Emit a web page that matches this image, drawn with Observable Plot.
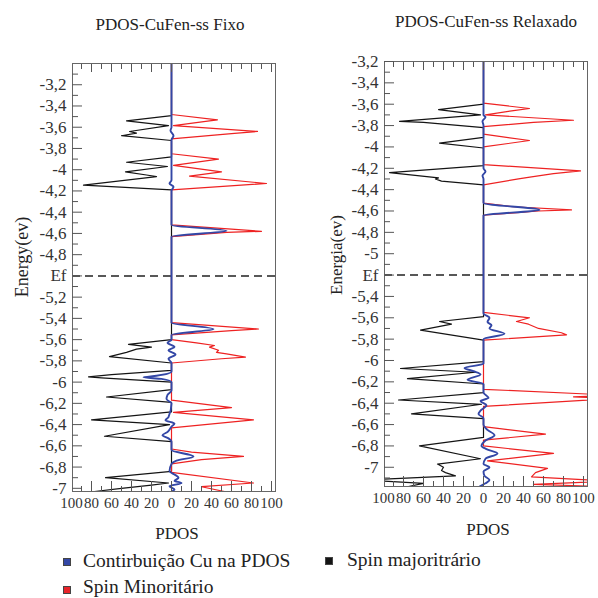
<!DOCTYPE html>
<html><head><meta charset="utf-8">
<script src="https://cdn.jsdelivr.net/npm/d3@7"></script>
<script src="https://cdn.jsdelivr.net/npm/@observablehq/plot@0.6"></script>
<style>
body{margin:0;background:#fff;}
#root{position:relative;width:598px;height:598px;overflow:hidden;font-family:"Liberation Serif","DejaVu Serif",serif;color:#222;background:#fff;}
.abs{position:absolute;white-space:nowrap;line-height:1;}
.ctr{transform:translate(-50%,-50%);}
.rot{transform:translate(-50%,-50%) rotate(-90deg);}
.sq{position:absolute;width:8px;height:8px;border:1px solid #444;box-sizing:border-box;}
</style></head><body><div id="root"></div>
<script>
// ---------- texts ----------
const panelTitles = ["PDOS-CuFen-ss Fixo", "PDOS-CuFen-ss Relaxado"];
const yAxisLabels = ["Energy(ev)", "Energia(ev)"];
const xAxisLabel = "PDOS";
const legendLabels = ["Contirbuição Cu na PDOS", "Spin majoritrário", "Spin Minoritário"];

// ---------- ticks ----------
const xTicks = [-100, -80, -60, -40, -20, 0, 20, 40, 60, 80, 100];
const xMinorTicks = [-90, -70, -50, -30, -10, 10, 30, 50, 70, 90];
const fixoEf = -5.0;
const relaxadoEf = -5.2;
const fixoYTicks = [-3.2, -3.4, -3.6, -3.8, -4, -4.2, -4.4, -4.6, -4.8, -5, -5.2, -5.4, -5.6, -5.8, -6, -6.2, -6.4, -6.6, -6.8, -7];
const relaxadoYTicks = [-3.2, -3.4, -3.6, -3.8, -4, -4.2, -4.4, -4.6, -4.8, -5, -5.2, -5.4, -5.6, -5.8, -6, -6.2, -6.4, -6.6, -6.8, -7];
const fixoYMinor = [-3.1, -3.3, -3.5, -3.7, -3.9, -4.1, -4.3, -4.5, -4.7, -4.9, -5.1, -5.3, -5.5, -5.7, -5.9, -6.1, -6.3, -6.5, -6.7, -6.9];
const relaxadoYMinor = [-3.3, -3.5, -3.7, -3.9, -4.1, -4.3, -4.5, -4.7, -4.9, -5.1, -5.3, -5.5, -5.7, -5.9, -6.1, -6.3, -6.5, -6.7, -6.9, -7.1];

// ---------- data: [energy, PDOS] ----------
const fixoMajoritario = [
  [-3.0,0],[-3.49,0],[-3.54,-45],[-3.585,-3],[-3.64,-42],[-3.655,-35],[-3.68,-50],[-3.725,0],
  [-3.88,0],[-3.93,-45],[-3.97,-4],[-4.02,-46],[-4.05,-25],[-4.065,-15],[-4.145,-88],[-4.19,0],
  [-5.6,0],[-5.645,-43],[-5.67,-20],[-5.69,-35],[-5.72,-45],[-5.76,-62],[-5.82,0],
  [-5.89,0],[-5.93,-60],[-5.95,-83],[-5.96,-70],[-6.0,0],
  [-6.07,0],[-6.14,-65],[-6.19,0],
  [-6.28,0],[-6.355,-80],[-6.40,-2],[-6.51,-67],[-6.56,0],
  [-6.84,0],[-6.9,-66],[-6.95,-3],[-6.97,-20],[-7.0,-50],[-7.03,-77]
];
const fixoMinoritario = [
  [-3.0,0],[-3.48,0],[-3.53,46],[-3.54,38],[-3.585,2],[-3.64,86],[-3.66,60],[-3.71,0],
  [-3.85,0],[-3.9,47],[-3.96,2],[-4.02,50],[-4.06,18],[-4.13,95],[-4.19,0],
  [-4.52,0],[-4.56,60],[-4.58,90],[-4.59,55],[-4.63,0],
  [-5.44,0],[-5.50,87],[-5.515,60],[-5.555,0],
  [-5.6,0],[-5.63,25],[-5.655,43],[-5.67,38],[-5.7,47],[-5.72,45],[-5.735,55],[-5.765,74],[-5.78,50],[-5.82,0],
  [-6.17,0],[-6.24,60],[-6.285,2],[-6.355,82],[-6.43,0],
  [-6.63,0],[-6.66,20],[-6.70,72],[-6.73,30],[-6.77,0],
  [-6.85,0],[-6.95,82],[-6.985,30],[-7.03,53]
];
const fixoCu = [
  [-3.0,0],[-3.6,0],[-3.63,-1],[-3.68,2],[-3.72,0],[-4.1,0],[-4.13,-2],[-4.16,2],[-4.2,0],
  [-4.52,0],[-4.575,55],[-4.63,0],
  [-5.44,0],[-5.5,42],[-5.555,0],
  [-5.6,0],[-5.63,-4],[-5.67,3],[-5.7,-3],[-5.74,4],[-5.78,-3],[-5.82,0],
  [-5.9,0],[-5.94,-15],[-5.955,-28],[-5.97,-10],[-6.0,0],
  [-6.08,0],[-6.12,-4],[-6.16,-5],[-6.2,0],[-6.33,-3],[-6.36,-6],[-6.39,3],[-6.42,0],[-6.47,-4],[-6.5,-9],[-6.53,-3],[-6.56,0],
  [-6.64,0],[-6.7,22],[-6.74,5],[-6.77,0],[-6.84,-2],[-6.87,3],[-6.9,7],[-6.93,3],[-6.95,10],[-6.98,-2],[-7.01,3],[-7.03,0]
];

const relaxadoMajoritario = [
  [-3.2,0],[-3.6,0],[-3.65,-45],[-3.70,-3],[-3.76,-84],[-3.77,-60],[-3.82,0],
  [-3.91,0],[-3.965,-44],[-4.01,0],
  [-4.175,0],[-4.24,-94],[-4.29,-45],[-4.30,-48],[-4.32,-42],[-4.355,0],
  [-5.59,0],[-5.635,-44],[-5.66,-32],[-5.715,-63],[-5.81,0],
  [-6.01,0],[-6.075,-83],[-6.11,-8],[-6.17,-76],[-6.22,0],
  [-6.30,0],[-6.37,-85],[-6.41,-2],[-6.50,-72],[-6.545,0],
  [-6.72,0],[-6.80,-64],[-6.92,-3],[-6.97,-46],[-7.0,-40],[-7.03,-42],[-7.05,-38],[-7.08,-28],[-7.12,-120],[-7.15,-60],[-7.18,-75]
];
const relaxadoMinoritario = [
  [-3.2,0],[-3.59,0],[-3.64,46],[-3.66,30],[-3.70,2],[-3.75,90],[-3.77,50],[-3.81,0],
  [-3.88,0],[-3.94,46],[-4.0,0],
  [-4.165,0],[-4.225,97],[-4.25,70],[-4.28,48],[-4.30,35],[-4.355,0],
  [-4.525,0],[-4.56,30],[-4.59,88],[-4.60,55],[-4.64,0],
  [-5.55,0],[-5.6,46],[-5.635,33],[-5.66,45],[-5.70,55],[-5.74,78],[-5.76,83],[-5.81,0],
  [-6.27,0],[-6.325,130],[-6.34,90],[-6.355,130],[-6.43,0],
  [-6.62,0],[-6.69,62],[-6.745,0],
  [-6.80,0],[-6.87,70],[-6.94,4],[-7.01,64],[-7.05,52],[-7.09,48],[-7.13,130],[-7.16,50],[-7.18,120]
];
const relaxadoCu = [
  [-3.2,0],[-3.7,0],[-3.72,2],[-3.76,-1],[-3.8,0],[-4.2,0],[-4.23,2],[-4.27,-1],[-4.3,0],
  [-4.525,0],[-4.59,56],[-4.64,0],
  [-5.56,0],[-5.60,6],[-5.64,4],[-5.67,8],[-5.70,6],[-5.75,21],[-5.80,0],
  [-6.03,0],[-6.07,-19],[-6.10,-10],[-6.13,-3],[-6.18,-16],[-6.22,0],
  [-6.30,0],[-6.35,5],[-6.38,-3],[-6.42,3],[-6.47,-3],[-6.5,-5],[-6.54,0],
  [-6.6,0],[-6.65,4],[-6.70,11],[-6.75,2],[-6.80,-2],[-6.83,3],[-6.87,14],[-6.92,2],[-6.97,0],[-7.0,6],[-7.04,0],[-7.08,1],[-7.12,6],[-7.15,2],[-7.18,-4]
];

const colors = {cu: "#3347a6", maj: "#141414", min: "#ee2222"};
const xDomain = [-99, 104];

function drawPanel(p) {
  const fmt = d => Math.abs(d - p.ef) < 1e-9 ? "Ef" : String(Math.round(d * 10) / 10).replace(".", ",");
  const blank = () => "";
  const tickStroke = "#555";
  const inside = xTicks.filter(d => d > xDomain[0] && d < xDomain[1]);
  return Plot.plot({
    width: p.width, height: p.height,
    marginLeft: p.marginLeft, marginRight: p.marginRight,
    marginTop: p.marginTop, marginBottom: p.marginBottom,
    style: {fontFamily: '"Liberation Serif", serif', fontSize: "17px", color: "#333", background: "transparent", overflow: "visible"},
    x: {domain: xDomain},
    y: {domain: p.yDomain},
    marks: [
      Plot.line(p.maj, {x: d => d[1], y: d => d[0], stroke: colors.maj, strokeWidth: 1.2, clip: true}),
      Plot.line(p.min, {x: d => d[1], y: d => d[0], stroke: colors.min, strokeWidth: 1.2, clip: true}),
      Plot.ruleY([p.ef], {stroke: "#222", strokeWidth: 1.5, strokeDasharray: "8,5"}),
      Plot.line(p.cu, {x: d => d[1], y: d => d[0], stroke: colors.cu, strokeWidth: 1.9, curve: "monotone-y", clip: true}),
      Plot.frame({stroke: "#666", strokeWidth: 1}),
      Plot.axisY(p.yTicks, {anchor: "left", tickSize: 0, tickPadding: 6, tickFormat: fmt, fontSize: 17, label: null}),
      Plot.axisY(p.yTicks, {anchor: "left", tickSize: -10, tickFormat: blank, label: null, stroke: tickStroke}),
      Plot.axisY(p.yMinor, {anchor: "left", tickSize: -6, tickFormat: blank, label: null, stroke: tickStroke}),
      Plot.axisX(xTicks, {anchor: "bottom", tickSize: 0, tickPadding: 6, tickFormat: d => String(Math.abs(d)), fontSize: 15, label: null}),
      Plot.axisX(inside, {anchor: "bottom", tickSize: -10, tickFormat: blank, label: null, stroke: tickStroke}),
      Plot.axisX(xMinorTicks, {anchor: "bottom", tickSize: -5, tickFormat: blank, label: null, stroke: tickStroke}),
      Plot.axisX(inside, {anchor: "top", tickSize: -8, tickFormat: blank, label: null, stroke: tickStroke}),
      Plot.axisX(xMinorTicks, {anchor: "top", tickSize: -5, tickFormat: blank, label: null, stroke: tickStroke})
    ]
  });
}

const root = document.getElementById("root");

const left = drawPanel({
  maj: fixoMajoritario, min: fixoMinoritario, cu: fixoCu, ef: fixoEf,
  yTicks: fixoYTicks, yMinor: fixoYMinor, yDomain: [-7.03, -3.0],
  width: 300, height: 520, marginLeft: 72, marginRight: 25, marginTop: 63, marginBottom: 29
});
left.style.position = "absolute"; left.style.left = "0px"; left.style.top = "0px";
root.appendChild(left);

const right = drawPanel({
  maj: relaxadoMajoritario, min: relaxadoMinoritario, cu: relaxadoCu, ef: relaxadoEf,
  yTicks: relaxadoYTicks, yMinor: relaxadoYMinor, yDomain: [-7.18, -3.2],
  width: 298, height: 520, marginLeft: 84, marginRight: 11, marginTop: 61, marginBottom: 34
});
right.style.position = "absolute"; right.style.left = "300px"; right.style.top = "0px";
root.appendChild(right);

function addText(text, x, y, size, cls) {
  const d = document.createElement("div");
  d.className = "abs " + cls;
  d.textContent = text;
  d.style.left = x + "px"; d.style.top = y + "px"; d.style.fontSize = size + "px";
  root.appendChild(d);
  return d;
}
addText(panelTitles[0], 170, 24, 17, "ctr");
addText(panelTitles[1], 486, 21, 17, "ctr");
addText(yAxisLabels[0], 22, 257, 18, "rot");
addText(yAxisLabels[1], 336, 255, 17, "rot");
addText(xAxisLabel, 177, 533, 17, "ctr");
addText(xAxisLabel, 488, 529, 17, "ctr");

function addSquare(color, x, y) {
  const s = document.createElement("div");
  s.className = "sq"; s.style.background = color;
  s.style.left = x + "px"; s.style.top = y + "px";
  root.appendChild(s);
}
addSquare(colors.cu, 63, 558);
addText(legendLabels[0], 83, 561, 19.5, "").style.transform = "translateY(-50%)";
addSquare(colors.maj, 325, 557);
addText(legendLabels[1], 347, 560, 19.5, "").style.transform = "translateY(-50%)";
addSquare("#e8242a", 63, 586);
addText(legendLabels[2], 83, 587, 19.5, "").style.transform = "translateY(-50%)";
</script></body></html>
